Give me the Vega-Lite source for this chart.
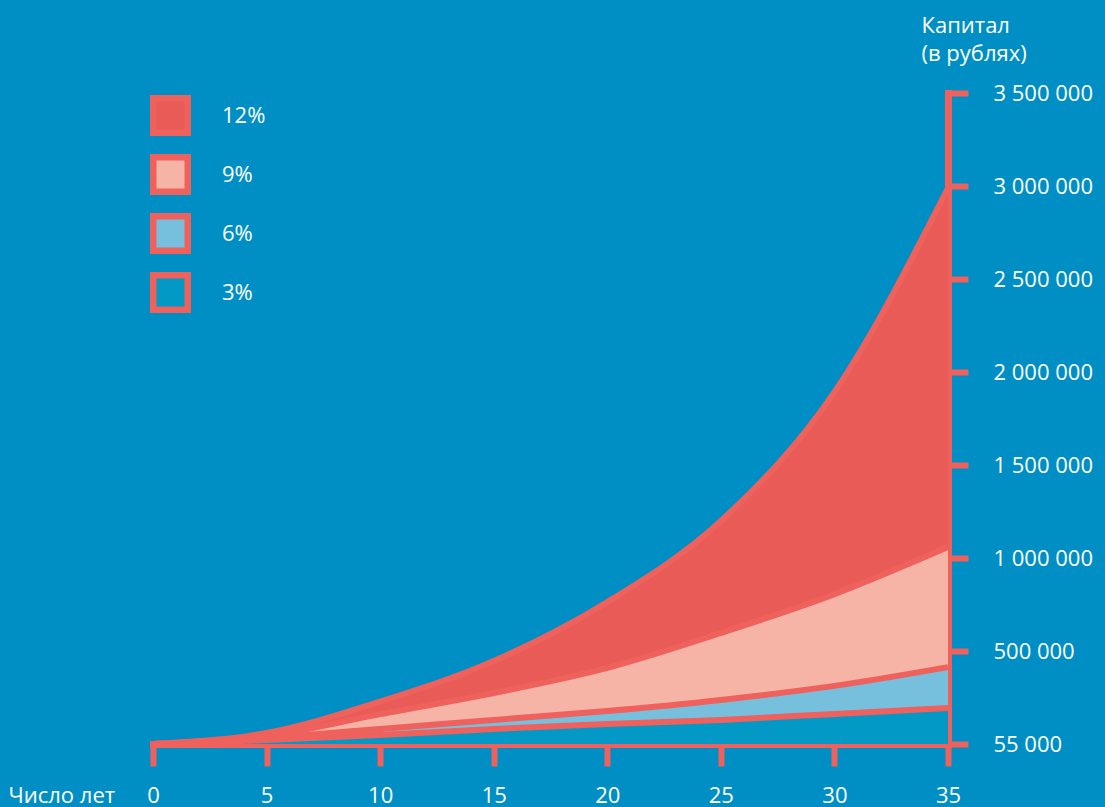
{
  "$schema": "https://vega.github.io/schema/vega-lite/v6.json",
  "width": 795,
  "height": 651,
  "autosize": {"type": "none"},
  "padding": {"left": 153, "top": 93, "right": 157, "bottom": 63},
  "background": "#008fc4",
  "config": {
    "view": {"stroke": null},
    "font": "Open Sans",
    "locale": {"number": {"decimal": ",", "thousands": " ", "grouping": [3], "currency": ["", ""]}}
  },
  "data": {
    "values": [
      {"rate": "12%", "year": 0, "capital": 55000},
      {"rate": "12%", "year": 5, "capital": 108000},
      {"rate": "12%", "year": 10, "capital": 258000},
      {"rate": "12%", "year": 15, "capital": 452000},
      {"rate": "12%", "year": 20, "capital": 763000},
      {"rate": "12%", "year": 25, "capital": 1199000},
      {"rate": "12%", "year": 30, "capital": 1892000},
      {"rate": "12%", "year": 35, "capital": 2989000},
      {"rate": "9%", "year": 0, "capital": 55000},
      {"rate": "9%", "year": 5, "capital": 93000},
      {"rate": "9%", "year": 10, "capital": 198000},
      {"rate": "9%", "year": 15, "capital": 299000},
      {"rate": "9%", "year": 20, "capital": 419000},
      {"rate": "9%", "year": 25, "capital": 597000},
      {"rate": "9%", "year": 30, "capital": 806000},
      {"rate": "9%", "year": 35, "capital": 1059000},
      {"rate": "6%", "year": 0, "capital": 55000},
      {"rate": "6%", "year": 5, "capital": 84000},
      {"rate": "6%", "year": 10, "capital": 127000},
      {"rate": "6%", "year": 15, "capital": 170000},
      {"rate": "6%", "year": 20, "capital": 213000},
      {"rate": "6%", "year": 25, "capital": 266000},
      {"rate": "6%", "year": 30, "capital": 333000},
      {"rate": "6%", "year": 35, "capital": 423000},
      {"rate": "3%", "year": 0, "capital": 55000},
      {"rate": "3%", "year": 5, "capital": 74000},
      {"rate": "3%", "year": 10, "capital": 98000},
      {"rate": "3%", "year": 15, "capital": 127000},
      {"rate": "3%", "year": 20, "capital": 151000},
      {"rate": "3%", "year": 25, "capital": 170000},
      {"rate": "3%", "year": 30, "capital": 199000},
      {"rate": "3%", "year": 35, "capital": 227000}
    ]
  },
  "encoding": {
    "x": {
      "field": "year",
      "type": "quantitative",
      "scale": {"domain": [0, 35], "nice": false, "zero": false},
      "axis": {
        "values": [0, 5, 10, 15, 20, 25, 30, 35],
        "title": "Число лет",
        "titleAnchor": "start",
        "titleAlign": "left",
        "titleBaseline": "alphabetic",
        "titleX": -145,
        "titleY": 58,
        "titleFontSize": 22,
        "titleFontWeight": "normal",
        "titleColor": "white",
        "domainColor": "#ef615c",
        "domainWidth": 7,
        "domainCap": "square",
        "tickColor": "#ef615c",
        "tickWidth": 6,
        "tickSize": 22,
        "labelColor": "white",
        "labelFontSize": 22,
        "labelPadding": 19,
        "labelFlush": false,
        "labelOverlap": false,
        "grid": false
      }
    },
    "y": {
      "field": "capital",
      "type": "quantitative",
      "stack": null,
      "scale": {"domain": [55000, 500000, 3500000], "range": [651, 558, 0], "nice": false, "zero": false},
      "axis": {
        "orient": "right",
        "values": [55000, 500000, 1000000, 1500000, 2000000, 2500000, 3000000, 3500000],
        "format": ",d",
        "title": ["Капитал", "(в рублях)"],
        "titleAngle": 0,
        "titleAnchor": "start",
        "titleAlign": "left",
        "titleBaseline": "alphabetic",
        "titleX": -27,
        "titleY": -61,
        "titleFontSize": 22,
        "titleFontWeight": "normal",
        "titleColor": "white",
        "titleLineHeight": 28,
        "domainColor": "#ef615c",
        "domainWidth": 7,
        "domainCap": "square",
        "tickColor": "#ef615c",
        "tickWidth": 6,
        "tickSize": 20,
        "labelColor": "white",
        "labelFontSize": 22,
        "labelPadding": 25,
        "labelFlush": false,
        "labelOverlap": false,
        "grid": false
      }
    }
  },
  "layer": [
    {
      "mark": {"type": "area", "interpolate": "monotone", "opacity": 1},
      "encoding": {
        "y2": {"datum": 55000},
        "color": {
          "field": "rate",
          "type": "nominal",
          "sort": ["12%", "9%", "6%", "3%"],
          "scale": {"domain": ["12%", "9%", "6%", "3%"], "range": ["#e95b56", "#f5b4a6", "#76c0de", "#0399c7"]},
          "legend": {
            "title": null,
            "orient": "none",
            "legendX": -3,
            "legendY": 2,
            "padding": 0,
            "symbolType": "square",
            "symbolSize": 1190,
            "symbolStrokeColor": "#ef615c",
            "symbolStrokeWidth": 6.5,
            "symbolOpacity": 1,
            "labelColor": "white",
            "labelFontSize": 22,
            "labelOffset": 31,
            "rowPadding": -2
          }
        }
      }
    },
    {
      "mark": {"type": "line", "interpolate": "monotone", "color": "#ef615c", "strokeWidth": 6},
      "encoding": {"detail": {"field": "rate", "type": "nominal"}}
    }
  ]
}
